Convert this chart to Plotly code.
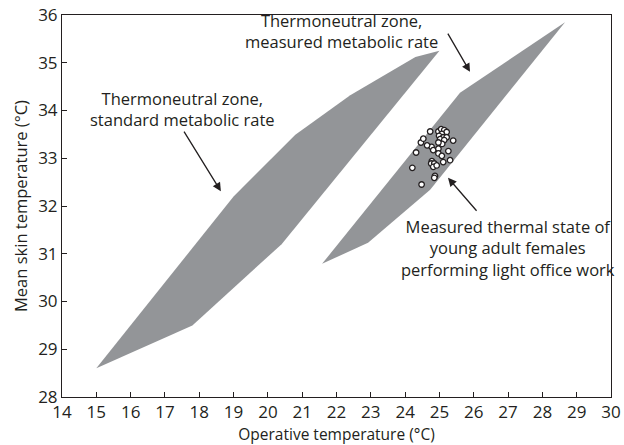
import plotly.graph_objects as go

# Thermoneutral zone, standard metabolic rate (polygon vertices)
std_x = [15.0, 17.8, 20.4, 25.0, 24.3, 22.4, 20.8, 19.0, 15.0]
std_y = [28.6, 29.5, 31.2, 35.25, 35.12, 34.32, 33.49, 32.2, 28.6]

# Thermoneutral zone, measured metabolic rate (polygon vertices)
meas_x = [21.58, 22.92, 24.73, 28.66, 25.60, 21.58]
meas_y = [30.79, 31.23, 32.34, 35.85, 34.37, 30.79]

# Measured thermal state of young adult females
pts_x = [24.46, 24.53, 24.73, 24.97, 25.05, 25.14, 25.21, 25.07, 24.99, 25.11,
         25.21, 25.02, 25.14, 25.08, 24.97, 24.32, 24.77, 24.82, 24.97, 24.97,
         25.26, 25.31, 24.78, 24.76, 24.85, 24.82, 24.92, 25.11, 24.21, 24.87,
         24.85, 24.48, 25.07, 25.40, 24.64]
pts_y = [33.33, 33.41, 33.56, 33.56, 33.61, 33.59, 33.55, 33.51, 33.47, 33.44,
         33.44, 33.40, 33.38, 33.30, 33.33, 33.12, 33.24, 33.17, 33.20, 33.10,
         33.15, 32.96, 32.94, 32.89, 32.89, 32.82, 32.85, 32.92, 32.80, 32.63,
         32.59, 32.45, 33.05, 33.37, 33.27]

x_ticks = list(range(14, 31))
y_ticks = list(range(28, 37))

FONT = "Open Sans"
GRAY = "#939598"
INK = "#231f20"

fig = go.Figure()
fig.add_trace(go.Scatter(x=std_x, y=std_y, fill="toself", fillcolor=GRAY,
                         mode="lines", line=dict(width=0, color=GRAY),
                         hoverinfo="skip", showlegend=False))
fig.add_trace(go.Scatter(x=meas_x, y=meas_y, fill="toself", fillcolor=GRAY,
                         mode="lines", line=dict(width=0, color=GRAY),
                         hoverinfo="skip", showlegend=False))
fig.add_trace(go.Scatter(x=pts_x, y=pts_y, mode="markers",
                         marker=dict(size=5.5, color="white",
                                     line=dict(color=INK, width=1.3)),
                         showlegend=False))

txt = dict(family=FONT, size=16.5, color=INK)
arrow = dict(showarrow=True, arrowhead=2, arrowsize=1.3, arrowwidth=1.3,
             arrowcolor=INK, axref="x", ayref="y", text="")

annotations = [
    dict(x=17.5, y=34.03, text="Thermoneutral zone,<br>standard metabolic rate",
         showarrow=False, font=txt, align="center"),
    dict(x=22.15, y=35.66, text="Thermoneutral zone,<br>measured metabolic rate",
         showarrow=False, font=txt, align="center"),
    dict(x=27.0, y=31.12,
         text="Measured thermal state of<br>young adult females<br>performing light office work",
         showarrow=False, font=txt, align="center"),
    dict(x=18.63, y=32.31, ax=17.53, ay=33.59, **arrow),
    dict(x=25.89, y=34.81, ax=25.22, ay=35.64, **arrow),
    dict(x=25.25, y=32.59, ax=26.12, ay=31.87, **arrow),
]

fig.update_layout(
    width=624, height=445,
    margin=dict(l=62, r=13, t=15, b=48, autoexpand=False),
    paper_bgcolor="white", plot_bgcolor="white",
    font=dict(family=FONT, size=15, color=INK),
    annotations=annotations,
    xaxis=dict(range=[14, 30], tickvals=x_ticks, ticks="inside", ticklen=5,
               tickcolor=INK, showline=True, linecolor=INK,
               linewidth=1, mirror=True, showgrid=False, zeroline=False,
               automargin=False,
               title=dict(text="Operative temperature (°C)", standoff=2,
                          font=dict(size=15.5)),
               tickfont=dict(size=17)),
    yaxis=dict(range=[28, 36], tickvals=y_ticks, ticks="inside", ticklen=5,
               tickcolor=INK, showline=True, linecolor=INK,
               linewidth=1, mirror=True, showgrid=False, zeroline=False,
               automargin=False,
               title=dict(text="Mean skin temperature (°C)", standoff=6,
                          font=dict(size=16.5)),
               tickfont=dict(size=17)),
)

fig.write_html("out.html", config={"displayModeBar": False},
               post_script="document.body.style.margin='0';document.body.style.overflow='hidden';")
